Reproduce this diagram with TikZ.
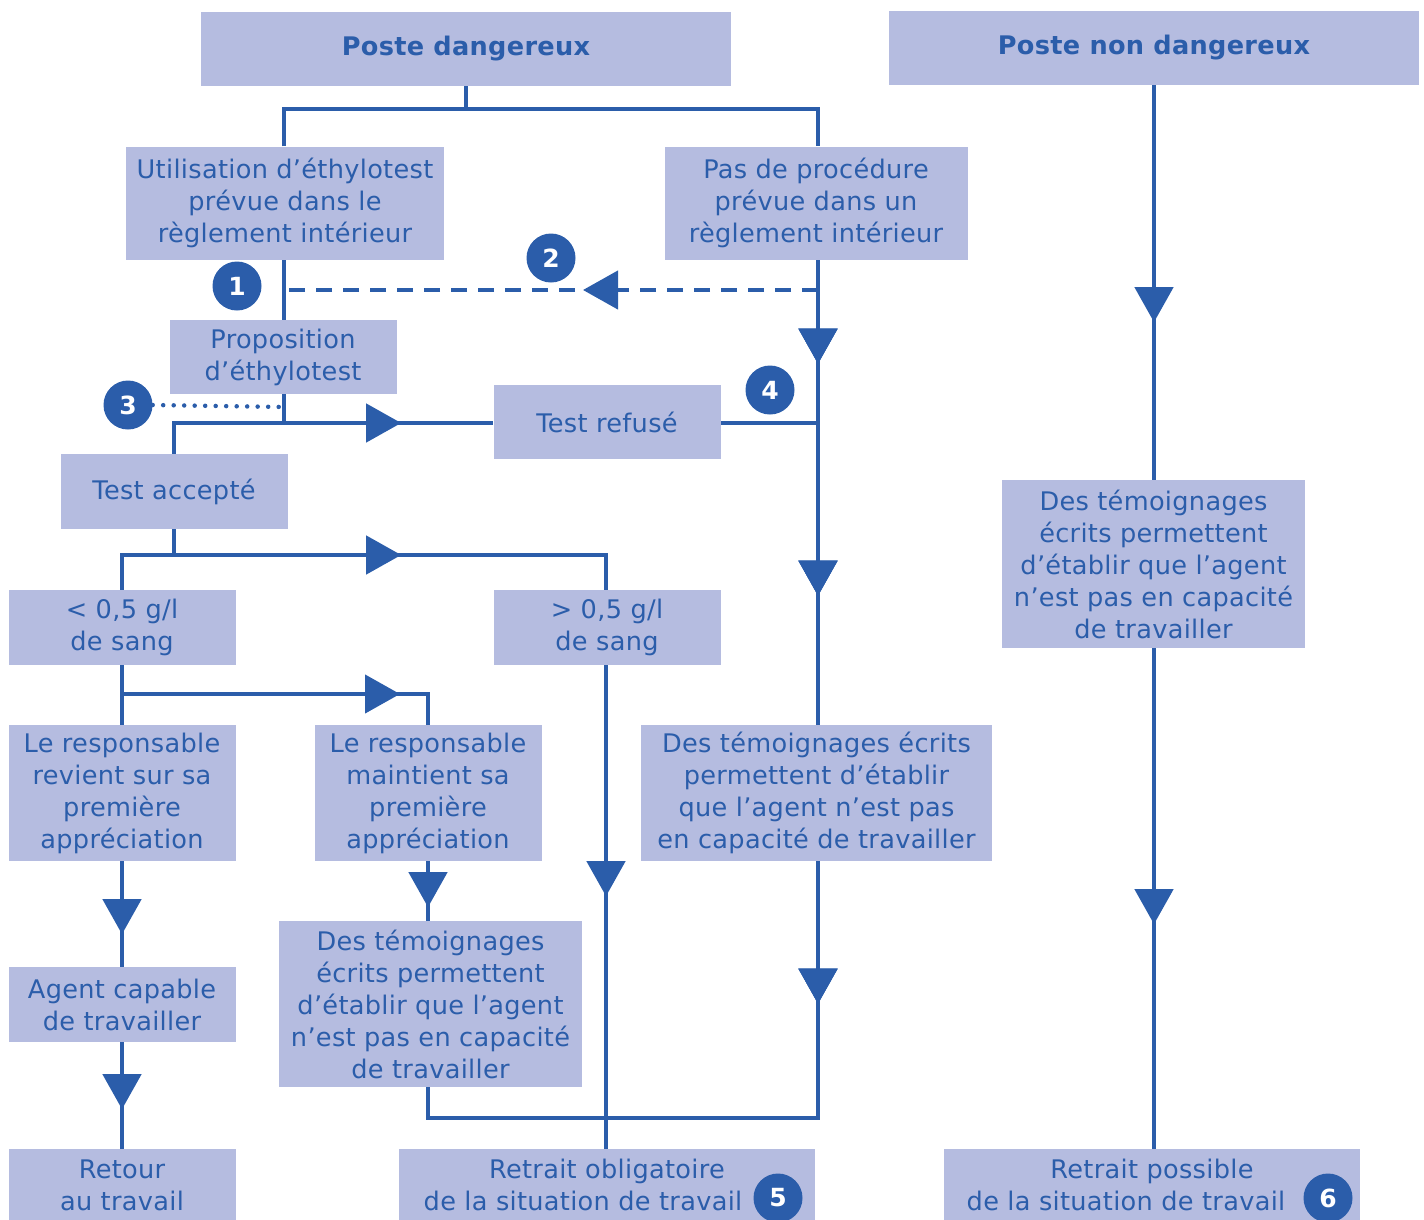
\documentclass[tikz,border=0pt]{standalone}
\usepackage{fontspec}
\setmainfont[LetterSpace=1.2]{DejaVu Sans}
\usetikzlibrary{arrows.meta,decorations.markings,backgrounds}
\definecolor{bl}{RGB}{43,93,170}
\definecolor{bf}{RGB}{181,188,224}
\begin{document}
\begin{tikzpicture}[x=1pt,y=-1pt,
 box/.style={fill=bf,text=bl,align=center,inner sep=0pt,font=\fontsize{25.6}{32}\selectfont},
 title/.style={box,font=\fontsize{25.6}{32}\selectfont\bfseries},
 line/.style={draw=bl,line width=4.5pt},
 dline/.style={draw=bl,line width=4.5pt,dash pattern=on 16pt off 11pt},
 dotline/.style={draw=bl,line width=4.5pt,line cap=round,dash pattern=on 0pt off 10.5pt},
 num/.style={circle,fill=bl,text=white,minimum size=49pt,inner sep=0pt,font=\fontsize{25}{25}\selectfont\bfseries},
 ar/.style={postaction={decorate},decoration={markings,mark=at position #1 with {\arrow{Triangle[length=35pt,width=38pt]}}}},
]
\useasboundingbox (0,0) rectangle (1424,1219);
% boxes
\node[title,minimum width=530pt,minimum height=74pt] (pd) at (466,49) {Poste dangereux};
\node[title,minimum width=530pt,minimum height=74pt] (pnd) at (1154,48) {Poste non dangereux};
\node[box,minimum width=318pt,minimum height=113pt] (util) at (285,203) {Utilisation d’éthylotest\\prévue dans le\\règlement intérieur};
\node[box,minimum width=303pt,minimum height=113pt] (pas) at (816,203) {Pas de procédure\\prévue dans un\\règlement intérieur};
\node[box,minimum width=227pt,minimum height=74pt] (prop) at (283,357) {Proposition\\d’éthylotest};
\node[box,minimum width=227pt,minimum height=74pt] (ref) at (607,422) {Test refusé};
\node[box,minimum width=227pt,minimum height=75pt] (acc) at (174,491.5) {Test accepté};
\node[box,minimum width=227pt,minimum height=75pt] (lt) at (122,627.5) {< 0,5 g/l\\de sang};
\node[box,minimum width=227pt,minimum height=75pt] (gt) at (607,627.5) {> 0,5 g/l\\de sang};
\node[box,minimum width=227pt,minimum height=136pt] (resp1) at (122,793) {Le responsable\\revient sur sa\\première\\appréciation};
\node[box,minimum width=227pt,minimum height=136pt] (resp2) at (428,793) {Le responsable\\maintient sa\\première\\appréciation};
\node[box,minimum width=351pt,minimum height=136pt] (tem3) at (816.5,793) {Des témoignages écrits\\permettent d’établir\\que l’agent n’est pas\\en capacité de travailler};
\node[box,minimum width=227pt,minimum height=75pt] (agent) at (122,1004.5) {Agent capable\\de travailler};
\node[box,minimum width=303pt,minimum height=166pt] (tem2) at (430.5,1004) {Des témoignages\\écrits permettent\\d’établir que l’agent\\n’est pas en capacité\\de travailler};
\node[box,minimum width=303pt,minimum height=168pt] (tem1) at (1153.5,564) {Des témoignages\\écrits permettent\\d’établir que l’agent\\n’est pas en capacité\\de travailler};
\node[box,minimum width=227pt,minimum height=72pt] (retour) at (122,1185) {Retour\\au travail};
\node[box,minimum width=416pt,minimum height=72pt] (ret2) at (607,1185) {Retrait obligatoire\\de la situation de travail\hspace*{48pt}};
\node[box,minimum width=416pt,minimum height=72pt] (ret3) at (1152,1185) {Retrait possible\\de la situation de travail\hspace*{52pt}};
% numbers
\node[num] (n1) at (237,286) {1};
\node[num] (n2) at (551,258) {2};
\node[num] (n3) at (128,405) {3};
\node[num] (n4) at (770,390) {4};
\node[num] (n5) at (778,1198) {5};
\node[num] (n6) at (1328,1198) {6};
% coordinates
\coordinate (j1) at (466,109);
\coordinate (d1) at (818,290);
\coordinate (d2) at (284,290);
\coordinate (c3) at (284,407);
\coordinate (c4) at (818,423);
\coordinate (h1) at (174,555);
\coordinate (h2) at (122,694);
\coordinate (cb) at (818,1118);
\coordinate (ca) at (428,1118);
\coordinate (v5) at (606,666);
\begin{pgfonlayer}{background}
\draw[line] (pd.south) -- (j1);
\draw[line] (util.north -| d2) |- (j1) -| (pas.north -| d1);
\draw[line] (util.south -| d2) -- (prop.north -| d2);
\draw[line,ar=104pt,ar=336pt,ar=744pt] (pas.south -| d1) -- (cb) -- (ca) -- (tem2.south -| ca);
\draw[dline,ar=235pt] (d1) -- (d2);
\draw[dotline] (n3.east) -- (c3);
\draw[line] (prop.south -| d2) -- (c4 -| d2);
\draw[line,ar=258pt] (acc.north) |- (c4 -| ref.west);
\draw[line] (c4 -| ref.east) -- (c4);
\draw[line] (acc.south) -- (h1);
\draw[line,ar=314pt] (lt.north) |- (h1) -| (gt.north -| v5);
\draw[line] (lt.south) -- (resp1.north);
\draw[line,ar=278pt] (h2) -| (resp2.north);
\draw[line,ar=231pt] (gt.south -| v5) -- (ret2.north -| v5);
\draw[line,ar=73pt] (resp1.south) -- (agent.north);
\draw[line,ar=67pt] (agent.south) -- (retour.north);
\draw[line,ar=46pt] (resp2.south) -- (tem2.north -| resp2.south);
\draw[line,ar=237pt] (pnd.south) -- (tem1.north -| pnd.south);
\draw[line,ar=276pt] (tem1.south -| pnd.south) -- (ret3.north -| pnd.south);
\end{pgfonlayer}
\end{tikzpicture}
\end{document}
